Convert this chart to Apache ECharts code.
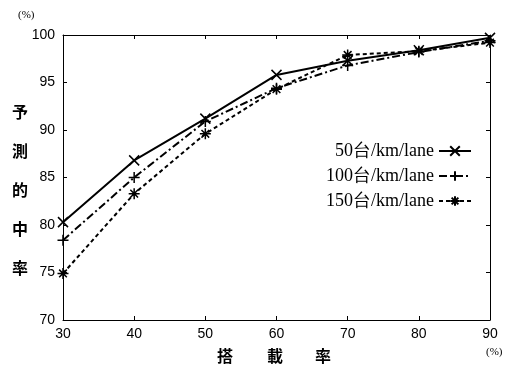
<!DOCTYPE html>
<html>
<head>
<meta charset="utf-8">
<script src="https://cdn.jsdelivr.net/npm/echarts@6/dist/echarts.min.js"></script>
<style>html,body{margin:0;padding:0;background:#fff;}#c{width:513px;height:373px;}</style>
</head>
<body>
<div id="c"></div>
<script>
const loadRates = [30, 40, 50, 60, 70, 80, 90];
const seriesNames = ['50台/km/lane', '100台/km/lane', '150台/km/lane'];
const hit50 = [80.3, 86.8, 91.2, 95.8, 97.3, 98.4, 99.7];
const hit100 = [78.4, 85.0, 90.9, 94.4, 96.8, 98.2, 99.4];
const hit150 = [74.9, 83.3, 89.6, 94.3, 97.9, 98.3, 99.2];
const yTicks = [70, 75, 80, 85, 90, 95, 100];
const xTicks = [30, 40, 50, 60, 70, 80, 90];

const pairs = arr => loadRates.map((x, i) => [x, arr[i]]);
const symX = 'path://M0,0L10,10M10,0L0,10';
const symPlus = 'path://M5,0L5,10M0,5L10,5';
const symStar = 'path://M5,0L5,10M0,5L10,5M1.5,1.5L8.5,8.5M8.5,1.5L1.5,8.5';

const chart = echarts.init(document.getElementById('c'), null, {renderer: 'canvas'});
const axisLine = {show: true, lineStyle: {color: '#000', width: 1}};
const mk = (name, data, sym, dash, size) => ({
  name, type: 'line', data: pairs(data), symbol: sym, symbolSize: size,
  showSymbol: true,
  itemStyle: {color: '#000', borderColor: '#000', borderWidth: 1.5},
  lineStyle: {color: '#000', width: 2, type: dash},
  emphasis: {disabled: true}, animation: false
});
chart.setOption({
  animation: false,
  grid: {left: 63, right: 23, top: 35, bottom: 53},
  xAxis: [{
    type: 'value', min: 30, max: 90, interval: 10,
    axisLine, axisTick: {inside: true, length: 4, lineStyle: {color: '#000'}},
    axisLabel: {color: '#000', fontSize: 14, fontFamily: 'Liberation Sans, Arial', margin: 7,
      formatter: v => xTicks.includes(v) ? String(v) : ''},
    splitLine: {show: false}
  }, {
    type: 'value', min: 30, max: 90, interval: 10, position: 'top',
    axisLine, axisTick: {inside: true, length: 4, lineStyle: {color: '#000'}},
    axisLabel: {show: false}, splitLine: {show: false}
  }],
  yAxis: [{
    type: 'value', min: 70, max: 100, interval: 5,
    axisLine, axisTick: {inside: true, length: 4, lineStyle: {color: '#000'}},
    axisLabel: {color: '#000', fontSize: 14, fontFamily: 'Liberation Sans, Arial', margin: 8,
      formatter: v => yTicks.includes(v) ? String(v) : ''},
    splitLine: {show: false}
  }, {
    type: 'value', min: 70, max: 100, interval: 5, position: 'right',
    axisLine, axisTick: {inside: true, length: 4, lineStyle: {color: '#000'}},
    axisLabel: {show: false}, splitLine: {show: false}
  }],
  legend: {
    orient: 'vertical', align: 'right', right: 36, top: 137,
    itemWidth: 32, itemHeight: 12, itemGap: 7,
    textStyle: {color: '#000', fontSize: 18, fontFamily: 'Liberation Serif, Times New Roman, serif', padding: [0, 0, 0, 0]},
    data: seriesNames
  },
  graphic: [
    {type: 'text', left: 18, top: 10, style: {text: '(%)', fontSize: 11, fontFamily: 'Liberation Serif, serif', fill: '#000'}},
    {type: 'text', left: 486, top: 347, style: {text: '(%)', fontSize: 11, fontFamily: 'Liberation Serif, serif', fill: '#000'}},
    {type: 'text', left: 12, top: 92, style: {text: '予\n測\n的\n中\n率', fontSize: 16, fontWeight: 'bold', lineHeight: 39, fontFamily: 'Noto Sans CJK JP', fill: '#000'}},
    {type: 'text', left: 217, top: 348, style: {text: '搭', fontSize: 16, fontWeight: 'bold', fontFamily: 'Noto Sans CJK JP', fill: '#000'}},
    {type: 'text', left: 267, top: 348, style: {text: '載', fontSize: 16, fontWeight: 'bold', fontFamily: 'Noto Sans CJK JP', fill: '#000'}},
    {type: 'text', left: 315, top: 348, style: {text: '率', fontSize: 16, fontWeight: 'bold', fontFamily: 'Noto Sans CJK JP', fill: '#000'}}
  ],
  series: [
    mk(seriesNames[0], hit50, symX, 'solid', 10),
    mk(seriesNames[1], hit100, symPlus, [8, 3, 2, 3], 11),
    mk(seriesNames[2], hit150, symStar, [4, 3], 11)
  ]
});
</script>
</body>
</html>
